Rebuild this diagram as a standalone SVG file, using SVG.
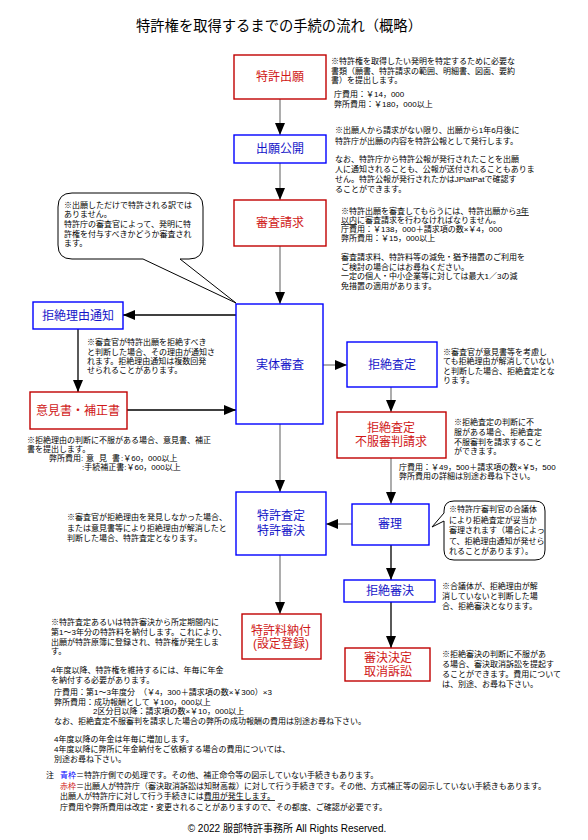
<svg xmlns="http://www.w3.org/2000/svg" width="588" height="840" viewBox="0 0 588 840">
<defs>
<style>
text{font-family:"Liberation Sans","Noto Sans CJK JP","Noto Sans",sans-serif;}
.t{font-size:8px;fill:#000;}
.lb{font-size:12px;text-anchor:middle;}
.lr{fill:#d01818;}
.lbb{fill:#1414c8;}
.br{fill:#fff;stroke:#c00000;stroke-width:1.4;}
.bb{fill:#fff;stroke:#0000ff;stroke-width:1.4;}
.cg{stroke:#808080;stroke-width:1.3;fill:none;}
.ck{stroke:#000;stroke-width:1.3;fill:none;}
.bub{fill:#fff;stroke:#000;stroke-width:1;}
.u{text-decoration:underline;}
</style>
<marker id="ah" markerUnits="userSpaceOnUse" markerWidth="12" markerHeight="10" refX="12" refY="5" orient="auto">
<path d="M0,0 L12,5 L0,10 z" fill="#000"/>
</marker>
</defs>
<rect width="588" height="840" fill="#fff"/>
<text x="136" y="31" style="font-size:14.3px">特許権を取得するまでの手続の流れ（概略）</text>

<g id="connectors">
<line class="cg" x1="280" y1="99" x2="280" y2="135" marker-end="url(#ah)"/>
<line class="cg" x1="280" y1="163" x2="280" y2="200" marker-end="url(#ah)"/>
<line class="cg" x1="280" y1="246" x2="280" y2="304" marker-end="url(#ah)"/>
<line class="ck" x1="236" y1="315" x2="123" y2="315" marker-end="url(#ah)"/>
<line class="ck" x1="78" y1="329" x2="78" y2="392" marker-end="url(#ah)"/>
<line class="ck" x1="127" y1="410" x2="236" y2="410" marker-end="url(#ah)"/>
<line class="cg" x1="323" y1="365" x2="347" y2="365" marker-end="url(#ah)"/>
<line class="cg" x1="391" y1="387" x2="391" y2="412" marker-end="url(#ah)"/>
<line class="cg" x1="391" y1="458" x2="391" y2="504" marker-end="url(#ah)"/>
<line class="cg" x1="352" y1="524" x2="326" y2="524" marker-end="url(#ah)"/>
<line class="cg" x1="280" y1="424" x2="280" y2="492" marker-end="url(#ah)"/>
<line class="cg" x1="280" y1="555" x2="280" y2="614" marker-end="url(#ah)"/>
<line class="ck" x1="391" y1="545" x2="391" y2="580" marker-end="url(#ah)"/>
<line class="ck" x1="391" y1="602" x2="391" y2="648" marker-end="url(#ah)"/>
</g>

<g id="n-shutsugan">
<rect class="br" x="234" y="55" width="92" height="44"/>
<text class="lb lr" x="280" y="81">特許出願</text>
</g>
<g id="n-koukai">
<rect class="bb" x="234" y="135" width="92" height="28"/>
<text class="lb lbb" x="280" y="153">出願公開</text>
</g>
<g id="n-shinsaseikyu">
<rect class="br" x="234" y="200" width="92" height="46"/>
<text class="lb lr" x="280" y="227">審査請求</text>
</g>
<g id="n-jittai">
<rect class="bb" x="236" y="304" width="87" height="120"/>
<text class="lb lbb" x="280" y="369">実体審査</text>
</g>
<g id="n-kyozetsuriyu">
<rect class="bb" x="33" y="302" width="90" height="27"/>
<text class="lb lbb" x="78" y="320">拒絶理由通知</text>
</g>
<g id="n-ikensho">
<rect class="br" x="30" y="392" width="97" height="37"/>
<text class="lb lr" x="78" y="415">意見書・補正書</text>
</g>
<g id="n-kyozetsusatei">
<rect class="bb" x="347" y="342" width="90" height="45"/>
<text class="lb lbb" x="392" y="369">拒絶査定</text>
</g>
<g id="n-fufuku">
<rect class="br" x="337" y="412" width="109" height="46"/>
<text class="lb lr"><tspan x="391" y="432">拒絶査定</tspan><tspan x="391" y="446">不服審判請求</tspan></text>
</g>
<g id="n-tokkyosatei">
<rect class="bb" x="236" y="492" width="90" height="63"/>
<text class="lb lbb"><tspan x="281" y="520">特許査定</tspan><tspan x="281" y="535">特許審決</tspan></text>
</g>
<g id="n-shinri">
<rect class="bb" x="352" y="504" width="77" height="41"/>
<text class="lb lbb" x="390" y="528">審理</text>
</g>
<g id="n-nofu">
<rect class="br" x="242" y="614" width="79" height="45"/>
<text class="lb lr"><tspan x="281" y="634.5">特許料納付</tspan><tspan x="281" y="648">(設定登録)</tspan></text>
</g>
<g id="n-kyozetsushinketsu">
<rect class="bb" x="344" y="580" width="91" height="22"/>
<text class="lb lbb" x="390" y="595">拒絶審決</text>
</g>
<g id="n-torikeshi">
<rect class="br" x="345" y="648" width="85" height="33"/>
<text class="lb lr"><tspan x="388" y="662">審決決定</tspan><tspan x="388" y="675.5">取消訴訟</tspan></text>
</g>

<g id="bubble1">
<path class="bub" d="M72,193 H189 Q203,193 203,207 V245 Q203,259 189,259 H180 L236,303 L143,259 H72 Q58,259 58,245 V207 Q58,193 72,193 Z"/>
<text class="t"><tspan x="64" y="208">※出願しただけで特許される訳では</tspan><tspan x="64" y="217">ありません。</tspan><tspan x="64" y="227">特許庁の審査官によって、発明に特</tspan><tspan x="64" y="237">許権を付与すべきかどうか審査され</tspan><tspan x="64" y="246">ます。</tspan></text>
</g>
<g id="bubble2">
<path class="bub" d="M454,501 H535 Q545,501 545,511 V550 Q545,560 535,560 H454 Q444,560 444,550 V521 L432,527 L444,513 V511 Q444,501 454,501 Z"/>
<text class="t"><tspan x="449" y="512">※特許庁審判官の合議体</tspan><tspan x="449" y="523">により拒絶査定が妥当か</tspan><tspan x="449" y="533">審理されます（場合によっ</tspan><tspan x="449" y="544">て、拒絶理由通知が発せら</tspan><tspan x="449" y="554">れることがあります）。</tspan></text>
</g>

<g id="notes">
<text class="t"><tspan x="331" y="64">※特許権を取得したい発明を特定するために必要な</tspan><tspan x="331" y="74">書類（願書、特許請求の範囲、明細書、図面、要約</tspan><tspan x="331" y="83">書）を提出します。</tspan><tspan x="334" y="97">庁費用：￥14，000</tspan><tspan x="334" y="107">弊所費用：￥180，000以上</tspan></text>

<text class="t"><tspan x="335" y="133">※出願人から請求がない限り、出願から1年6月後に</tspan><tspan x="335" y="144">特許庁が出願の内容を特許公報として発行します。</tspan><tspan x="335" y="162">なお、特許庁から特許公報が発行されたことを出願</tspan><tspan x="335" y="172">人に通知されることも、公報が送付されることもありま</tspan><tspan x="335" y="182">せん。特許公報が発行されたかはJPlatPatで確認す</tspan><tspan x="335" y="192">ることができます。</tspan></text>

<text class="t"><tspan x="341" y="214">※特許出願を審査してもらうには、特許出願から</tspan><tspan class="u">3年</tspan><tspan x="341" y="223" class="u">以内</tspan><tspan>に審査請求を行わなければなりません。</tspan><tspan x="341" y="232">庁費用：￥138，000＋請求項の数×￥4，000</tspan><tspan x="341" y="241">弊所費用：￥15，000以上</tspan><tspan x="341" y="260">審査請求料、特許料等の減免・猶予措置のご利用を</tspan><tspan x="341" y="270">ご検討の場合にはお尋ねください。</tspan><tspan x="341" y="279">一定の個人・中小企業等に対しては最大1／3の減</tspan><tspan x="341" y="289">免措置の適用があります。</tspan></text>

<text class="t"><tspan x="87" y="345">※審査官が特許出願を拒絶すべき</tspan><tspan x="87" y="355">と判断した場合、その理由が通知さ</tspan><tspan x="87" y="364">れます。拒絶理由通知は複数回発</tspan><tspan x="87" y="373">せられることがあります。</tspan></text>

<text class="t"><tspan x="27" y="443">※拒絶理由の判断に不服がある場合、意見書、補正</tspan><tspan x="27" y="452">書を提出します。</tspan><tspan x="49" y="461">弊所費用:</tspan><tspan x="86">意</tspan><tspan x="99">見</tspan><tspan x="112">書</tspan><tspan x="121">:￥60，000以上</tspan><tspan x="82" y="470">:手続補正書:￥60，000以上</tspan></text>

<text class="t"><tspan x="443" y="355">※審査官が意見書等を考慮し</tspan><tspan x="443" y="364">ても拒絶理由が解消していない</tspan><tspan x="443" y="374">と判断した場合、拒絶査定とな</tspan><tspan x="443" y="383">ります。</tspan></text>

<text class="t"><tspan x="454" y="425">※拒絶査定の判断に不</tspan><tspan x="454" y="435">服がある場合、拒絶査定</tspan><tspan x="454" y="445">不服審判を請求すること</tspan><tspan x="454" y="454">ができます。</tspan></text>
<text class="t"><tspan x="399" y="470">庁費用：￥49，500＋請求項の数×￥5，500</tspan><tspan x="399" y="479">弊所費用の詳細は別途お尋ね下さい。</tspan></text>

<text class="t"><tspan x="67" y="520">※審査官が拒絶理由を発見しなかった場合、</tspan><tspan x="67" y="531">または意見書等により拒絶理由が解消したと</tspan><tspan x="67" y="541">判断した場合、特許査定となります。</tspan></text>

<text class="t"><tspan x="51" y="625">※特許査定あるいは特許審決から所定期間内に</tspan><tspan x="51" y="635">第1～3年分の特許料を納付します。これにより、</tspan><tspan x="51" y="645">出願が特許原簿に登録され、特許権が発生しま</tspan><tspan x="51" y="654">す。</tspan><tspan x="51" y="673">4年度以降、特許権を維持するには、年毎に年金</tspan><tspan x="51" y="683">を納付する必要があります。</tspan><tspan x="54" y="695">庁費用：第1～3年度分　（￥4，300＋請求項の数×￥300）×3</tspan><tspan x="54" y="705">弊所費用：成功報酬として ￥100，000以上</tspan><tspan x="93" y="714">2区分目以降：請求項の数×￥10，000以上</tspan><tspan x="54" y="724">なお、拒絶査定不服審判を請求した場合の弊所の成功報酬の費用は別途お尋ね下さい。</tspan><tspan x="54" y="742">4年度以降の年金は年毎に増加します。</tspan><tspan x="54" y="752">4年度以降に弊所に年金納付をご依頼する場合の費用については、</tspan><tspan x="54" y="762">別途お尋ね下さい。</tspan></text>

<text class="t"><tspan x="442" y="589">※合議体が、拒絶理由が解</tspan><tspan x="442" y="599">消していないと判断した場</tspan><tspan x="442" y="609">合、拒絶審決となります。</tspan></text>

<text class="t"><tspan x="442" y="657">※拒絶審決の判断に不服があ</tspan><tspan x="442" y="667">る場合、審決取消訴訟を提起す</tspan><tspan x="442" y="677">ることができます。費用について</tspan><tspan x="442" y="687">は、別途、お尋ね下さい。</tspan></text>
</g>

<g id="footer">
<text class="t"><tspan x="46" y="778">注</tspan><tspan x="60" y="778" fill="#0000ff">青枠</tspan><tspan>＝特許庁側での処理です。その他、補正命令等の図示していない手続きもあります。</tspan><tspan x="60" y="789" fill="#d01818">赤枠</tspan><tspan>＝出願人が特許庁（審決取消訴訟は知財高裁）に対して行う手続きです。その他、方式補正等の図示していない手続きもあります。</tspan><tspan x="60" y="799">出願人が特許庁に対して行う手続きには</tspan><tspan class="u">費用が発生します。</tspan><tspan x="60" y="810">庁費用や弊所費用は改定・変更されることがありますので、その都度、ご確認が必要です。</tspan></text>
<text x="287" y="832" text-anchor="middle" style="font-size:10px">© 2022 服部特許事務所 All Rights Reserved.</text>
</g>
</svg>
